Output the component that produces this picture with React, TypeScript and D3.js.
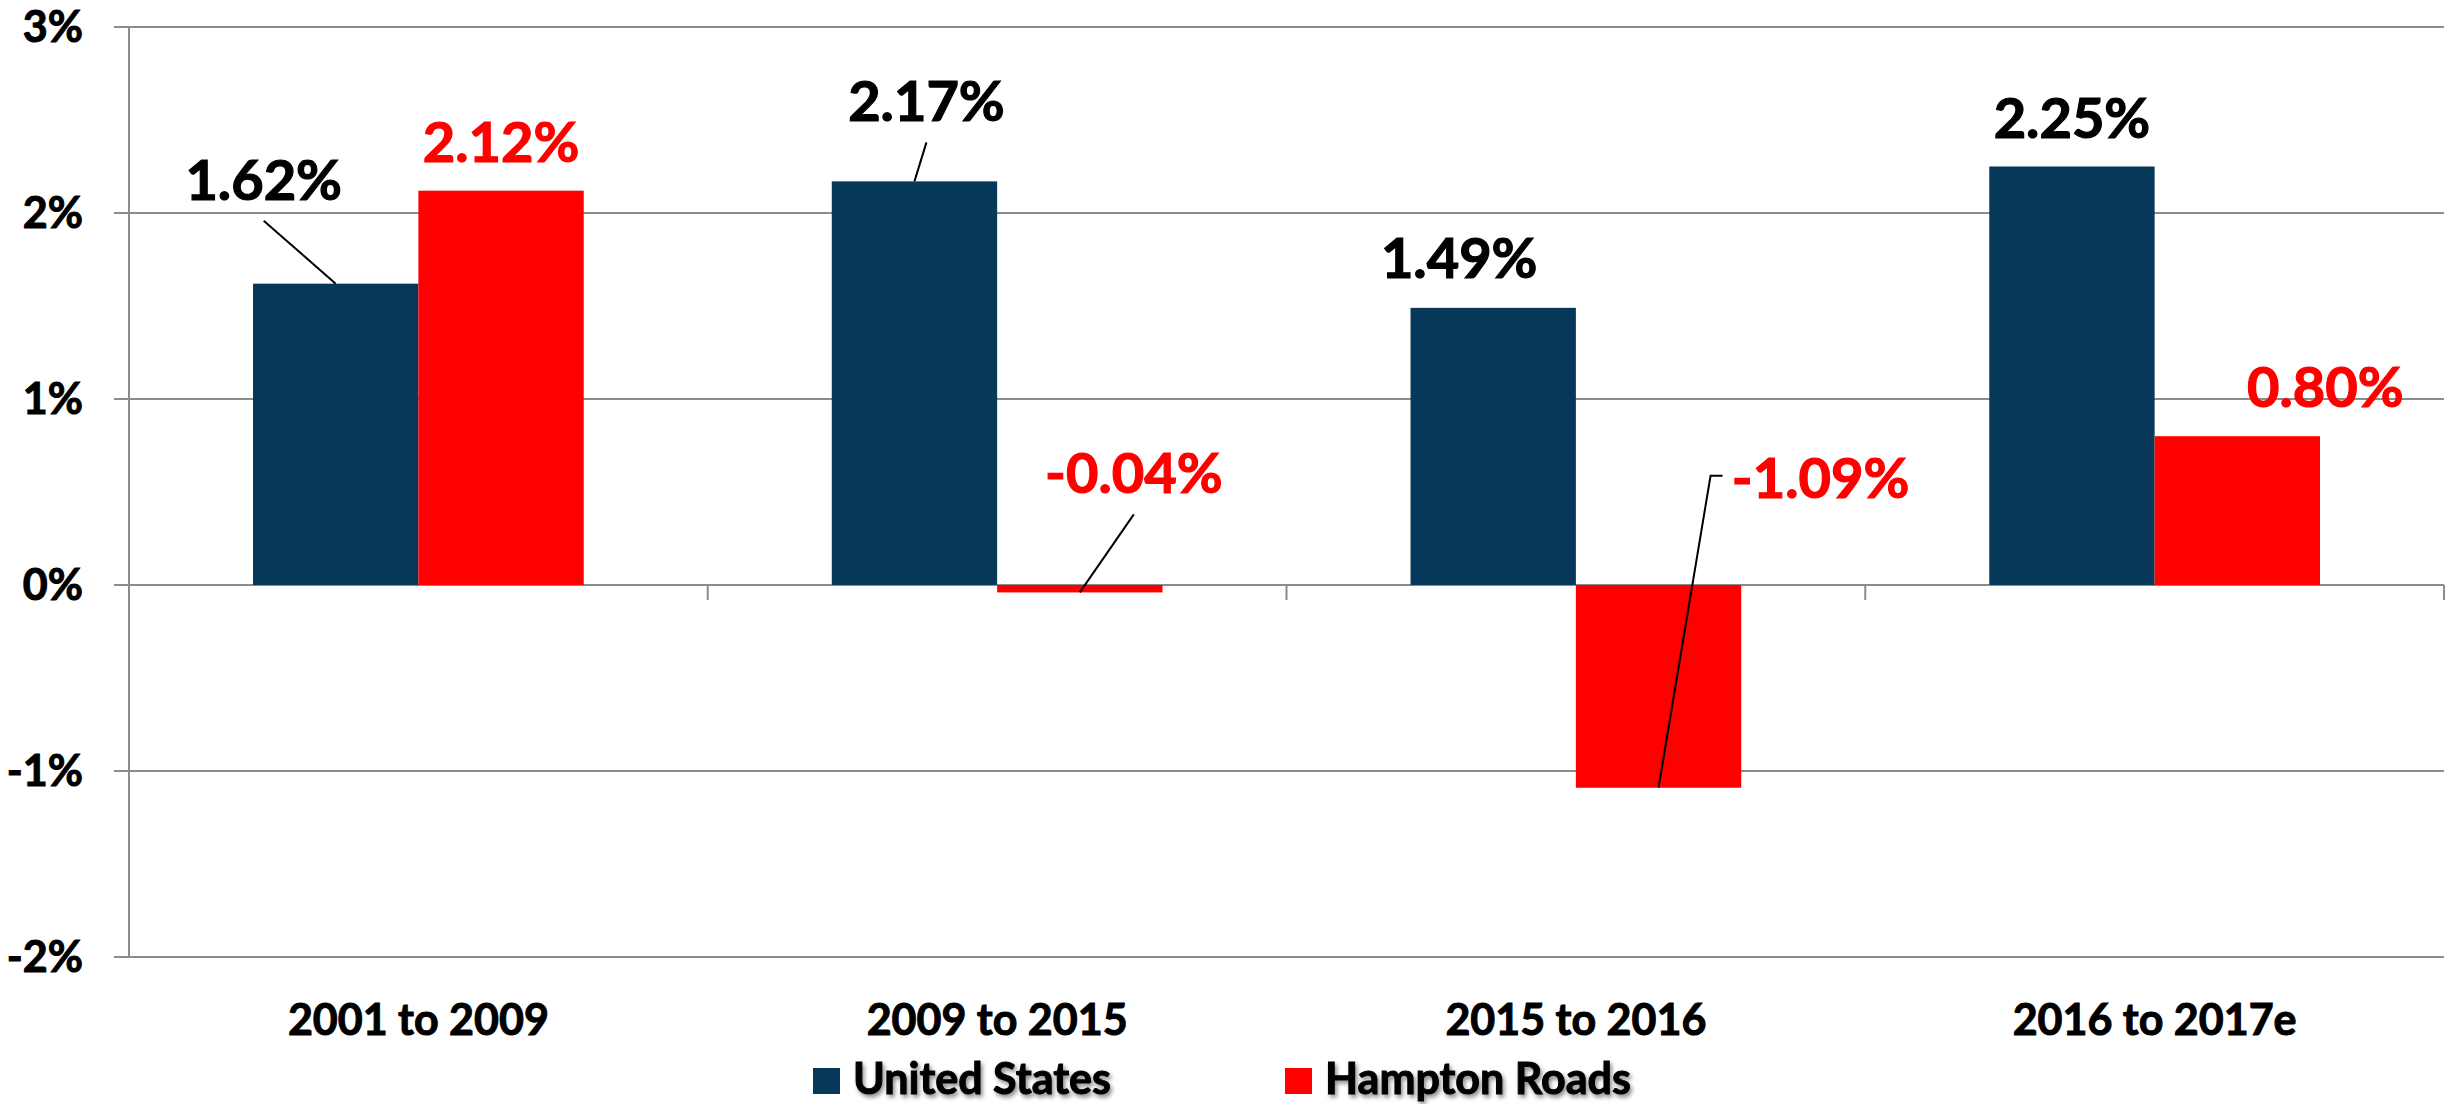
import * as d3 from "d3";

// data
const periods = ["2001 to 2009", "2009 to 2015", "2015 to 2016", "2016 to 2017e"];
const seriesNames = ["United States", "Hampton Roads"];
const unitedStates = [1.62, 2.17, 1.49, 2.25];
const hamptonRoads = [2.12, -0.04, -1.09, 0.8];
const yTicks = [-2, -1, 0, 1, 2, 3];

// look
const colors = ["#073759", "#ff0000"];
const labelColors = ["#000000", "#ff0000"];
const FONT = "Lato, 'Open Sans', sans-serif";

// manual label placement, like the hand-dragged labels in the original (dx, dy from bar end)
// leader: 0 none, 1 straight line below label, 2 elbow on the left
const labelPlace = [
  [[-72, -84, 1], [12, -60, 1], [-34, -30, 0], [0, -29, 0]],
  [[0, -29, 0], [54, -99, 1], [162, -290, 2], [88, -29, 0]],
];

export default function App() {
  const width = 2463;
  const height = 1104;
  const left = 129;
  const right = 2444;
  const top = 27;
  const bottom = 957;

  const y = d3.scaleLinear([-2, 3], [bottom, top]);
  const x0 = d3.scaleBand(periods, [left, right]).padding(0);
  const x1 = d3.scaleBand(seriesNames, [0, x0.bandwidth()]).paddingInner(0).paddingOuter(0.75);
  const values = [unitedStates, hamptonRoads];
  const fmt = (v: number) => v.toFixed(2) + "%";

  // a thin outline in the text colour makes Lato bold look closer to Calibri bold
  const heavy = (c: string, w = 1) => ({ stroke: c, strokeWidth: w, paintOrder: "stroke" as const });

  return (
    <svg
      width={width}
      height={height}
      style={{ position: "absolute", left: 0, top: 0, background: "#fff" }}
      fontFamily={FONT}
      fontWeight="bold"
    >
      <defs>
        <filter id="shadow" x="-10%" y="-30%" width="120%" height="160%">
          <feDropShadow dx="2" dy="3" stdDeviation="2" floodColor="#000" floodOpacity="0.45" />
        </filter>
      </defs>

      {/* gridlines and y labels */}
      {yTicks.map((t) => (
        <g key={t}>
          <line x1={left - 15} x2={right} y1={y(t)} y2={y(t)} stroke="#8c8c8c" strokeWidth={2} />
          <text x={83} y={y(t)} dy="0.36em" textAnchor="end" fontSize={43} fill="#000" {...heavy("#000")}>
            {t + "%"}
          </text>
        </g>
      ))}
      <line x1={left} x2={left} y1={top} y2={bottom} stroke="#8c8c8c" strokeWidth={2} />

      {/* category ticks on zero line */}
      {periods.map((p) => (
        <line
          key={p}
          x1={(x0(p) as number) + x0.bandwidth()}
          x2={(x0(p) as number) + x0.bandwidth()}
          y1={y(0)}
          y2={y(0) + 15}
          stroke="#8c8c8c"
          strokeWidth={2}
        />
      ))}

      {/* bars */}
      {seriesNames.map((s, si) =>
        periods.map((p, i) => {
          const v = values[si][i];
          const bx = (x0(p) as number) + (x1(s) as number);
          return (
            <rect
              key={s + p}
              x={bx}
              y={y(Math.max(0, v))}
              width={x1.bandwidth()}
              height={Math.abs(y(v) - y(0))}
              fill={colors[si]}
            />
          );
        })
      )}

      {/* data labels with leader lines */}
      {seriesNames.map((s, si) =>
        periods.map((p, i) => {
          const v = values[si][i];
          const cx = (x0(p) as number) + (x1(s) as number) + x1.bandwidth() / 2;
          const ey = y(v);
          const [dx, dy, leader] = labelPlace[si][i];
          const lx = cx + dx;
          const ly = ey + dy;
          let path = null;
          if (leader === 1) {
            path = d3.line()([[lx, ly + 21], [cx, ey]]);
          } else if (leader === 2) {
            const tx = lx - 89;
            path = d3.line()([[tx - 9, ly - 22], [tx - 21, ly - 22], [cx, ey]]);
          }
          return (
            <g key={s + p}>
              {path && <path d={path} fill="none" stroke="#000" strokeWidth={2} />}
              <text
                x={lx}
                y={ly}
                textAnchor="middle"
                fontSize={56}
                fill={labelColors[si]}
                {...heavy(labelColors[si], 1.2)}
              >
                {fmt(v)}
              </text>
            </g>
          );
        })
      )}

      {/* category labels */}
      {periods.map((p) => (
        <text
          key={p}
          x={(x0(p) as number) + x0.bandwidth() / 2}
          y={1035}
          textAnchor="middle"
          fontSize={43}
          fill="#000"
          {...heavy("#000")}
        >
          {p}
        </text>
      ))}

      {/* legend */}
      {seriesNames.map((s, si) => {
        const lx = [813, 1285][si];
        return (
          <g key={s}>
            <rect x={lx} y={1068} width={27} height={26} fill={colors[si]} />
            <text
              x={lx + 40}
              y={1094}
              fontSize={43}
              fill="#000"
              filter="url(#shadow)"
              {...heavy("#000")}
            >
              {s}
            </text>
          </g>
        );
      })}
    </svg>
  );
}
